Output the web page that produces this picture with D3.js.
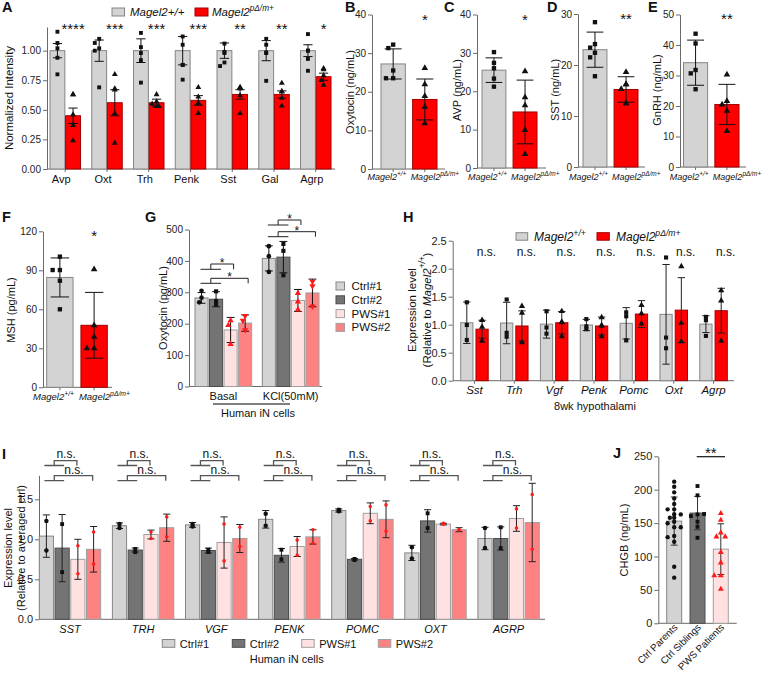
<!DOCTYPE html>
<html><head><meta charset="utf-8">
<script src="https://cdn.jsdelivr.net/npm/d3@7"></script>
<style>body{margin:0;background:#fff}svg{display:block}text{font-family:'Liberation Sans',Arial,Helvetica,sans-serif}</style>
</head><body><svg id="c" width="764" height="674"></svg>
<script>
// ---------------- DATA ----------------
const aGenes = ["Avp","Oxt","Trh","Penk","Sst","Gal","Agrp"];
const aWtMean = [1.00,1.00,1.00,1.00,1.00,1.00,1.00];
const aWtErr  = [0.06,0.09,0.10,0.12,0.065,0.085,0.05];
const aKoMean = [0.45,0.56,0.56,0.58,0.63,0.63,0.78];
const aKoErr  = [0.065,0.11,0.03,0.04,0.04,0.03,0.03];
const aWtPts = [[1.16,1.065,1.02,0.94,0.80],[1.10,1.065,1.02,1.00,0.69],[1.15,1.03,0.98,0.92,0.73],[1.12,1.05,0.88,0.88,0.755],[1.06,0.99,0.98,0.90,0.87],[1.10,1.05,0.985,0.98,0.745],[1.14,1.00,1.00,0.93,0.83]];
const aKoPts = [[0.63,0.63,0.46,0.37,0.24],[0.80,0.68,0.67,0.47,0.22],[0.63,0.57,0.55,0.53,0.53],[0.69,0.61,0.56,0.55,0.47],[0.69,0.69,0.68,0.62,0.47],[0.726,0.655,0.655,0.60,0.534],[0.84,0.85,0.79,0.75,0.71]];
const aStars = ["****","***","***","***","**","**","*"];

const bMean=[27.2,18.0], bErr=[3.9,5.3], bPts=[[32.2,31.3,23.5,23.5,25.5],[26.1,21.9,18.9,16.1,11.8]];
const cMean=[25.5,14.6], cErr=[3.2,8.3], cPts=[[30.2,27.4,26.0,23.3,21.2],[25.2,18.4,16.3,9.9,3.6]];
const dMean=[23.0,15.2], dErr=[3.45,2.5], dPts=[[28.4,24.1,23.4,22.4,21.5,17.8],[18.6,16.2,16.2,15.3,12.5,12.5]];
const eMean=[34.2,20.5], eErr=[7.4,6.6], ePts=[[43.7,40.5,31.8,30.7,25.5],[30.3,21.6,20.5,18.4,11.8]];
const fMean=[84.5,47.7], fErr=[15,25.3], fPts=[[100.5,90.2,90.2,82,60],[90.8,47.7,38.9,30,30]];
const bcdefStars = ["*","*","**","**","*"];

const gConds = ["Basal","KCl(50mM)"];
const cellLines = ["Ctrl#1","Ctrl#2","PWS#1","PWS#2"];
const gMean = [[282,408],[278,412],[180,274],[202,298]];
const gErr  = [[17,40],[24,50],[40,35],[26,44]];
const gPts  = [[[305,283,268],[447,415,365]],[[303,272,262],[454,432,354]],[[210,195,135],[297,270,245]],[[225,210,180],[334,320,255]]];

const hGenes = ["Sst","Trh","Vgf","Penk","Pomc","Oxt","Agrp"];
const hWtMean = [1.035,1.03,1.01,0.995,1.025,1.185,1.01];
const hWtErr  = [0.37,0.37,0.25,0.10,0.28,0.89,0.15];
const hKoMean = [0.92,0.977,1.035,0.977,1.19,1.26,1.25];
const hKoErr  = [0.16,0.27,0.20,0.16,0.24,0.58,0.40];
const hWtPts = [[1.40,0.995,0.727],[1.45,0.855,0.785],[1.24,0.95,0.84],[1.10,0.97,0.92],[1.22,1.15,0.72],[2.20,0.77,0.58],[1.14,1.08,0.80]];
const hKoPts = [[1.08,0.96,0.71],[1.33,1.21,0.685],[1.24,1.05,1.04,0.79],[1.13,0.99,0.98,0.79],[1.35,1.20,1.02],[2.04,1.03,0.70],[1.61,1.43,0.71]];
const hSig = ["n.s.","n.s.","n.s.","n.s.","n.s.","n.s.","n.s."];

const iGenes = ["SST","TRH","VGF","PENK","POMC","OXT","AGRP"];
const iMean = [
  [1.04,1.17,1.18,1.25,1.36,0.83,1.01],
  [0.89,0.866,0.86,0.80,0.75,1.23,1.01],
  [0.75,1.06,0.96,0.91,1.325,1.19,1.26],
  [0.875,1.145,1.01,1.03,1.25,1.12,1.21]];
const iErr = [
  [0.265,0.035,0.03,0.11,0.02,0.095,0.14],
  [0.42,0.025,0.03,0.085,0.01,0.14,0.145],
  [0.25,0.055,0.32,0.125,0.13,0.01,0.16],
  [0.285,0.17,0.175,0.09,0.23,0.025,0.49]];
const iPts = [
  [[1.23,0.86],[1.19,1.14],[1.19,1.16],[1.32,1.17],[1.37,1.35],[0.90,0.76],[1.14,0.89]],
  [[1.19,0.59],[0.88,0.84],[0.87,0.84],[0.87,0.75],[0.755,0.74],[1.325,1.14],[1.15,0.89]],
  [[0.92,0.57],[1.09,1.01],[1.19,0.73],[0.99,0.80],[1.41,1.23],[1.20,1.19],[1.38,1.14]],
  [[1.09,0.69],[1.28,1.03],[1.15,0.91],[1.12,0.95],[1.43,1.10],[1.12,1.12],[1.56,0.875]]];
const iSig = ["n.s.","n.s."];

const jGroups = ["Ctrl Parents","Ctrl Siblings","PWS Patients"];
const jMean = [153,165,111];
const jErr  = [36,25,38];
const jPts = [
  [212,204.5,196,187,178.6,170.6,170.6,163.2,158,163,152,149.7,143.7,143.7,130.7,129,122,84.7,68.3,158],
  [205.5,191.6,163,160.6,163.6,152,144.6,128],
  [164.6,154.6,135.6,129.6,129.6,106.3,90.7,71.3,71.3,51.3]];
const jStar = "**";

// ---------------- HELPERS ----------------
const svg = d3.select("#c");
svg.append("rect").attr("width",764).attr("height",674).attr("fill","#fff");
const ST = {
  wt:{fill:"#d3d3d3",stroke:"#858585"},
  ko:{fill:"#ff0000",stroke:"#a00000"},
  c1:{fill:"#d3d3d3",stroke:"#858585"},
  c2:{fill:"#747474",stroke:"#4d4d4d"},
  p1:{fill:"#ffe1e1",stroke:"#a0a0a0"},
  p2:{fill:"#ff8282",stroke:"#a0a0a0"}
};
const lineSt = [ST.c1,ST.c2,ST.p1,ST.p2];

function txt(x,y,s,o={}){
  const t=svg.append("text").attr("x",x).attr("y",y).attr("font-size",o.fs||11)
    .attr("fill",o.fill||"#111").attr("text-anchor",o.anchor||"start");
  if(s!==null) t.text(s);
  if(o.bold) t.attr("font-weight","bold");
  if(o.italic) t.attr("font-style","italic");
  if(o.central) t.attr("dominant-baseline","central");
  if(o.rot) t.attr("transform",`rotate(${o.rot},${x},${y})`);
  return t;
}
function magel(t,sup){
  t.append("tspan").attr("font-style","italic").text("Magel2");
  t.append("tspan").attr("font-style","italic").attr("font-size","72%").attr("dy","-0.5em").text(sup);
}
function yAxis(x0,y,ticks,fmt,fs){
  const g=svg.append("g").attr("transform",`translate(${x0},0)`)
    .call(d3.axisLeft(y).tickValues(ticks).tickFormat(fmt).tickSize(4).tickSizeOuter(0).tickPadding(2));
  g.select(".domain").attr("stroke","#6a6a6a");
  g.selectAll(".tick line").attr("stroke","#6a6a6a");
  g.selectAll("text").attr("font-size",fs).attr("fill","#222")
    .attr("font-family","'Liberation Sans',Arial,sans-serif");
  return g;
}
function xBase(x0,x1,y0){
  svg.append("line").attr("x1",x0).attr("x2",x1).attr("y1",y0).attr("y2",y0).attr("stroke","#6a6a6a");
}
function xTicks(scale,y0){
  const g=svg.append("g").attr("transform",`translate(0,${y0})`)
    .call(d3.axisBottom(scale).tickSize(3).tickFormat(""));
  g.select(".domain").remove();
  g.selectAll(".tick line").attr("stroke","#6a6a6a");
}
function barRect(x,w,y,m,st){
  svg.append("rect").attr("x",x).attr("y",y(m)).attr("width",w).attr("height",y(0)-y(m))
    .attr("fill",st.fill).attr("stroke",st.stroke).attr("stroke-width",1);
}
function errBar(cx,y,m,e,cap,color="#111"){
  const g=svg.append("g").attr("stroke",color).attr("stroke-width",1);
  const lo=Math.max(0,m-e), hi=m+e;
  g.append("line").attr("x1",cx).attr("x2",cx).attr("y1",y(lo)).attr("y2",y(hi));
  [lo,hi].forEach(v=>g.append("line").attr("x1",cx-cap/2).attr("x2",cx+cap/2).attr("y1",y(v)).attr("y2",y(v)));
}
function dodge(vals,y,cx,half,r){
  const placed=[];
  return vals.map(v=>{
    const py=y(v); const offs=[0];
    for(let k=1;k<10;k++){offs.push(-k*r*0.9,k*r*0.9);}
    let px=cx;
    for(const o of offs){
      if(Math.abs(o)>half) continue;
      if(placed.every(p=>Math.hypot(p[0]-(cx+o),p[1]-py)>=2*r)){px=cx+o;break;}
    }
    placed.push([px,py]); return [px,py];
  });
}
function dots(cx,half,y,vals,type,size,color,rot=0){
  const r=Math.sqrt(size)/2+0.5;
  dodge(vals,y,cx,half,r).forEach(([px,py])=>{
    svg.append("path").attr("d",d3.symbol().type(type).size(size)())
      .attr("transform",`translate(${px},${py}) rotate(${rot})`).attr("fill",color);
  });
}
function bracket(x1,x2,xt,yLow,yUp,color,sw){
  const mid=(x1+x2)/2;
  svg.append("path").attr("d",`M${x1},${yLow}H${x2}M${mid},${yLow}V${yUp}H${xt}V${yLow}`)
    .attr("fill","none").attr("stroke",color).attr("stroke-width",sw);
  return mid;
}

// ---------------- PANEL LETTERS ----------------
[["A",2,12],["B",345,12],["C",444,12],["D",547,12],["E",648,12],["F",2,222],["G",145,222],["H",403,222],["I",2,459],["J",613,458]]
  .forEach(([l,x,y])=>txt(x,y,l,{fs:14.5,bold:true}));

// ---------------- PANEL A ----------------
(function(){
  const xA=d3.scaleBand().domain(aGenes).range([50,331]).paddingInner(0.27);
  const xi=d3.scaleBand().domain(["wt","ko"]).range([0,xA.bandwidth()]).paddingInner(0.05);
  const y=d3.scaleLinear().domain([0,1.2]).range([169,27]);
  yAxis(47,y,[0,0.25,0.5,0.75,1],d3.format(".2f"),10);
  xBase(47,335,169); xTicks(xA,169);
  aGenes.forEach((gn,i)=>{
    const x0=xA(gn), w=xi.bandwidth();
    [["wt",aWtMean,aWtErr,aWtPts,ST.wt,d3.symbolSquare],["ko",aKoMean,aKoErr,aKoPts,ST.ko,d3.symbolTriangle]]
    .forEach(([k,M,E,P,st,sym])=>{
      const x=x0+xi(k), cx=x+w/2;
      barRect(x,w,y,M[i],st); errBar(cx,y,M[i],E[i],w*0.62);
      dots(cx,w*0.36,y,P[i],sym,15,"#111");
    });
    txt(x0+xA.bandwidth()/2-4,183,gn,{fs:11,anchor:"middle"});
    txt(x0+xi("ko")+w/2,33.5,aStars[i],{fs:15,anchor:"middle"});
  });
  txt(9,98,"Normalized Intensity",{fs:11.5,anchor:"middle",rot:-90,central:true});
  svg.append("rect").attr("x",112).attr("y",8).attr("width",12.5).attr("height",8).attr("fill",ST.wt.fill).attr("stroke",ST.wt.stroke);
  txt(130,15.5,"Magel2+/+",{fs:11.5,italic:true});
  svg.append("rect").attr("x",195).attr("y",8).attr("width",13).attr("height",8).attr("fill",ST.ko.fill).attr("stroke",ST.ko.stroke);
  magel(txt(212,15.5,null,{fs:11.5}),"pΔ/m+");
})();

// ---------------- PANELS B-F ----------------
function twoBar(c){
  const y=d3.scaleLinear().domain(c.dom).range(c.yr);
  const x=d3.scaleBand().domain(["wt","ko"]).range(c.xr).paddingInner(0.23);
  yAxis(c.ax,y,c.ticks,d3.format("d"),10);
  xBase(c.ax,c.axEnd,y(0)); xTicks(x,y(0));
  const w=x.bandwidth();
  ["wt","ko"].forEach((k,i)=>{
    const st=i?ST.ko:ST.wt, bx=x(k), cx=bx+w/2;
    barRect(bx,w,y,c.means[i],st); errBar(cx,y,c.means[i],c.errs[i],w*0.7);
    dots(cx,w*0.3,y,c.pts[i],i?d3.symbolTriangle:d3.symbolSquare,19,"#111");
  });
  magel(txt(x("wt")+w+1,c.ly,null,{fs:c.lfs,anchor:"end"}),"+/+");
  magel(txt(x("ko")-2,c.ly,null,{fs:c.lfs,anchor:"start"}),"pΔ/m+");
  txt(c.ylx,c.yly,c.ylab,{fs:11,anchor:"middle",rot:-90,central:true});
  txt(x("ko")+w/2,c.sy,c.star,{fs:15,anchor:"middle"});
}
twoBar({ax:372,axEnd:445,xr:[381,437],yr:[169,14.5],dom:[0,40],ticks:[0,10,20,30,40],means:bMean,errs:bErr,pts:bPts,ly:179.5,lfs:9,ylx:350,yly:92,ylab:"Oxytocin (ng/mL)",sy:24.5,star:bcdefStars[0]});
twoBar({ax:477,axEnd:546,xr:[482,537],yr:[168,14.5],dom:[0,40],ticks:[0,10,20,30,40],means:cMean,errs:cErr,pts:cPts,ly:179.5,lfs:9,ylx:457,yly:90,ylab:"AVP (ng/mL)",sy:24.5,star:bcdefStars[1]});
twoBar({ax:578,axEnd:645,xr:[583,638],yr:[167,14],dom:[0,30],ticks:[0,10,20,30],means:dMean,errs:dErr,pts:dPts,ly:179.5,lfs:9,ylx:555,yly:90,ylab:"SST (ng/mL)",sy:24,star:bcdefStars[2]});
twoBar({ax:680,axEnd:746,xr:[683.5,739],yr:[167,14.5],dom:[0,50],ticks:[0,10,20,30,40,50],means:eMean,errs:eErr,pts:ePts,ly:179.5,lfs:9,ylx:657,yly:90,ylab:"GnRH (ng/mL)",sy:24,star:bcdefStars[3]});
twoBar({ax:43,axEnd:112,xr:[46.7,107.3],yr:[387.3,231.3],dom:[0,120],ticks:[0,30,60,90,120],means:fMean,errs:fErr,pts:fPts,ly:399.5,lfs:9.5,ylx:11,yly:310,ylab:"MSH (pg/mL)",sy:240.5,star:bcdefStars[4]});

// ---------------- PANEL G ----------------
(function(){
  const xo=d3.scaleBand().domain(gConds).range([195,319]).paddingInner(0.158);
  const xi=d3.scaleBand().domain(cellLines).range([0,xo.bandwidth()]).paddingInner(0.1);
  const y=d3.scaleLinear().domain([0,500]).range([386.5,229.5]);
  yAxis(189,y,[0,100,200,300,400,500],d3.format("d"),10);
  xBase(189,322,386.5);
  const syms=[[d3.symbolCircle,0,"#111"],[d3.symbolSquare,0,"#111"],[d3.symbolTriangle,0,"#ff1a1a"],[d3.symbolTriangle,180,"#ff1a1a"]];
  const w=xi.bandwidth();
  gConds.forEach((cd,ci)=>{
    cellLines.forEach((ln,li)=>{
      const x=xo(cd)+xi(ln), cx=x+w/2;
      barRect(x,w,y,gMean[li][ci],lineSt[li]);
      errBar(cx,y,gMean[li][ci],gErr[li][ci],w*0.6);
      dots(cx,w*0.3,y,gPts[li][ci],syms[li][0],17,syms[li][2],syms[li][1]);
    });
    const cc=i=>xo(cd)+xi(cellLines[i])+w/2;
    const lv = ci===0 ? [[264,269.3],[278.3,283.3]] : [[220,225],[231.7,236.7]];
    [2,3].forEach((t,k)=>{
      const mid=bracket(cc(0)-1,cc(1)+5,cc(t)+3,lv[k][1],lv[k][0],"#222",1);
      txt((mid+cc(t)+3)/2,lv[k][0]+3,"*",{fs:12,anchor:"middle"});
    });
    txt(xo(cd)+xo.bandwidth()/2,399.5,cd,{fs:11,anchor:"middle"});
  });
  svg.append("line").attr("x1",213).attr("x2",290).attr("y1",404).attr("y2",404).attr("stroke","#555").attr("stroke-width",1.5);
  txt(258,417,"Human iN cells",{fs:11,anchor:"middle"});
  txt(163,308,"Oxytocin (pg/mL)",{fs:11,anchor:"middle",rot:-90,central:true});
  cellLines.forEach((ln,li)=>{
    const yc=286+li*13.8;
    svg.append("rect").attr("x",336).attr("y",yc-4).attr("width",8.5).attr("height",8).attr("fill",lineSt[li].fill).attr("stroke",lineSt[li].stroke);
    txt(351.5,yc+4,ln,{fs:11.5});
  });
})();

// ---------------- PANEL H ----------------
(function(){
  const xo=d3.scaleBand().domain(hGenes).range([460.7,727.3]).paddingInner(0.31);
  const xi=d3.scaleBand().domain(["wt","ko"]).range([0,xo.bandwidth()]).paddingInner(0.2);
  const y=d3.scaleLinear().domain([0,2.5]).range([380.7,240.7]);
  yAxis(452.7,y,[0,0.5,1,1.5,2,2.5],d3.format(".1f"),11);
  xBase(452.7,734,380.7); xTicks(xo,380.7);
  const w=xi.bandwidth();
  hGenes.forEach((gn,i)=>{
    [["wt",hWtMean,hWtErr,hWtPts,ST.wt,d3.symbolSquare],["ko",hKoMean,hKoErr,hKoPts,ST.ko,d3.symbolTriangle]]
    .forEach(([k,M,E,P,st,sym])=>{
      const x=xo(gn)+xi(k), cx=x+w/2;
      barRect(x,w,y,M[i],st); errBar(cx,y,M[i],E[i],w*0.6,"#222");
      dots(cx,w*0.32,y,P[i],sym,17,"#111");
    });
    const gc=xo(gn)+xo.bandwidth()/2;
    txt(gc,393.5,gn,{fs:11.5,anchor:"middle",italic:true});
    txt(gc+12,256,hSig[i],{fs:12,anchor:"middle"});
  });
  txt(595,409.5,"8wk hypothalami",{fs:11,anchor:"middle"});
  svg.append("rect").attr("x",516).attr("y",232.7).attr("width",11.7).attr("height",7.5).attr("fill",ST.wt.fill).attr("stroke",ST.wt.stroke);
  magel(txt(534,240.5,null,{fs:12}),"+/+");
  svg.append("rect").attr("x",597).attr("y",232.7).attr("width",12.3).attr("height",7.5).attr("fill",ST.ko.fill).attr("stroke",ST.ko.stroke);
  magel(txt(616,240.5,null,{fs:12}),"pΔ/m+");
  txt(411.5,310,"Expression level",{fs:11.5,anchor:"middle",rot:-90,central:true});
  const t2=txt(426.5,310,null,{fs:11.5,anchor:"middle",rot:-90,central:true});
  t2.append("tspan").text("(Relative to ");
  magel(t2,"+/+");
  t2.append("tspan").attr("dy","0.36em").text(")");
})();

// ---------------- PANEL I ----------------
(function(){
  const xo=d3.scaleBand().domain(iGenes).range([39.3,539.3]).paddingInner(0.16);
  const xi=d3.scaleBand().domain(cellLines).range([0,xo.bandwidth()]).paddingInner(0.1);
  const y=d3.scaleLinear().domain([0,1.8]).range([619.3,475.3]);
  yAxis(39,y,[0,0.5,1,1.5],d3.format(".1f"),11);
  xBase(39,545,619.3);
  const syms=[[d3.symbolCircle,"#111",16],[d3.symbolSquare,"#111",15],[d3.symbolCircle,"#ff1a1a",10],[d3.symbolCircle,"#ff1a1a",10]];
  const w=xi.bandwidth();
  const lv=[[460.7,465.5,457.5],[475.7,480.7,474]];
  iGenes.forEach((gn,gi)=>{
    cellLines.forEach((ln,li)=>{
      const x=xo(gn)+xi(ln), cx=x+w/2;
      barRect(x,w,y,iMean[li][gi],lineSt[li]);
      errBar(cx,y,iMean[li][gi],iErr[li][gi],w*0.5,"#222");
      dots(cx,w*0.3,y,iPts[li][gi],syms[li][0],syms[li][2],syms[li][1]);
    });
    const cc=i=>xo(gn)+xi(cellLines[i])+w/2;
    [2,3].forEach((t,k)=>{
      const mid=bracket(cc(0)-2,cc(1)+2,cc(t)-1,lv[k][1],lv[k][0],"#555",1.3);
      txt((mid+cc(t))/2,lv[k][2],iSig[k],{fs:12,anchor:"middle"});
    });
    txt(xo(gn)+xo.bandwidth()/2,632.7,gn,{fs:11,anchor:"middle",italic:true});
  });
  const lx=[162.3,232.3,301.7,378.3];
  cellLines.forEach((ln,li)=>{
    svg.append("rect").attr("x",lx[li]).attr("y",639.5).attr("width",12.5).attr("height",7.8).attr("fill",lineSt[li].fill).attr("stroke",lineSt[li].stroke);
    txt(lx[li]+17.5,647.5,ln,{fs:11});
  });
  txt(286.7,662.7,"Human iN cells",{fs:11,anchor:"middle"});
  txt(8,548,"Expression level",{fs:11,anchor:"middle",rot:-90,central:true});
  txt(21,548,"(Relative to averaged ctrl)",{fs:11,anchor:"middle",rot:-90,central:true});
})();

// ---------------- PANEL J ----------------
(function(){
  const x=d3.scaleBand().domain(jGroups).range([666.7,728.3]).paddingInner(0.357);
  const y=d3.scaleLinear().domain([0,250]).range([623.3,456.3]);
  yAxis(658.3,y,[0,50,100,150,200,250],d3.format("d"),11);
  xBase(658.3,736.7,623.3);
  const st=[ST.c1,ST.c2,ST.p1];
  const syms=[[d3.symbolCircle,"#111"],[d3.symbolSquare,"#111"],[d3.symbolTriangle,"#ff1a1a"]];
  const w=x.bandwidth();
  jGroups.forEach((gname,i)=>{
    const bx=x(gname), cx=bx+w/2;
    barRect(bx,w,y,jMean[i],st[i]);
    errBar(cx,y,jMean[i],jErr[i],w*0.45,"#333");
    dots(cx,w*0.5,y,jPts[i],syms[i][0],15,syms[i][1]);
    txt(cx+4,628,gname,{fs:9.8,anchor:"end",rot:-45});
  });
  svg.append("line").attr("x1",696.7).attr("x2",725).attr("y1",456.7).attr("y2",456.7).attr("stroke","#111").attr("stroke-width",1.2);
  txt(710.8,457.5,jStar,{fs:15,anchor:"middle"});
  txt(624,540,"CHGB (ng/mL)",{fs:11,anchor:"middle",rot:-90,central:true});
})();
</script></body></html>
